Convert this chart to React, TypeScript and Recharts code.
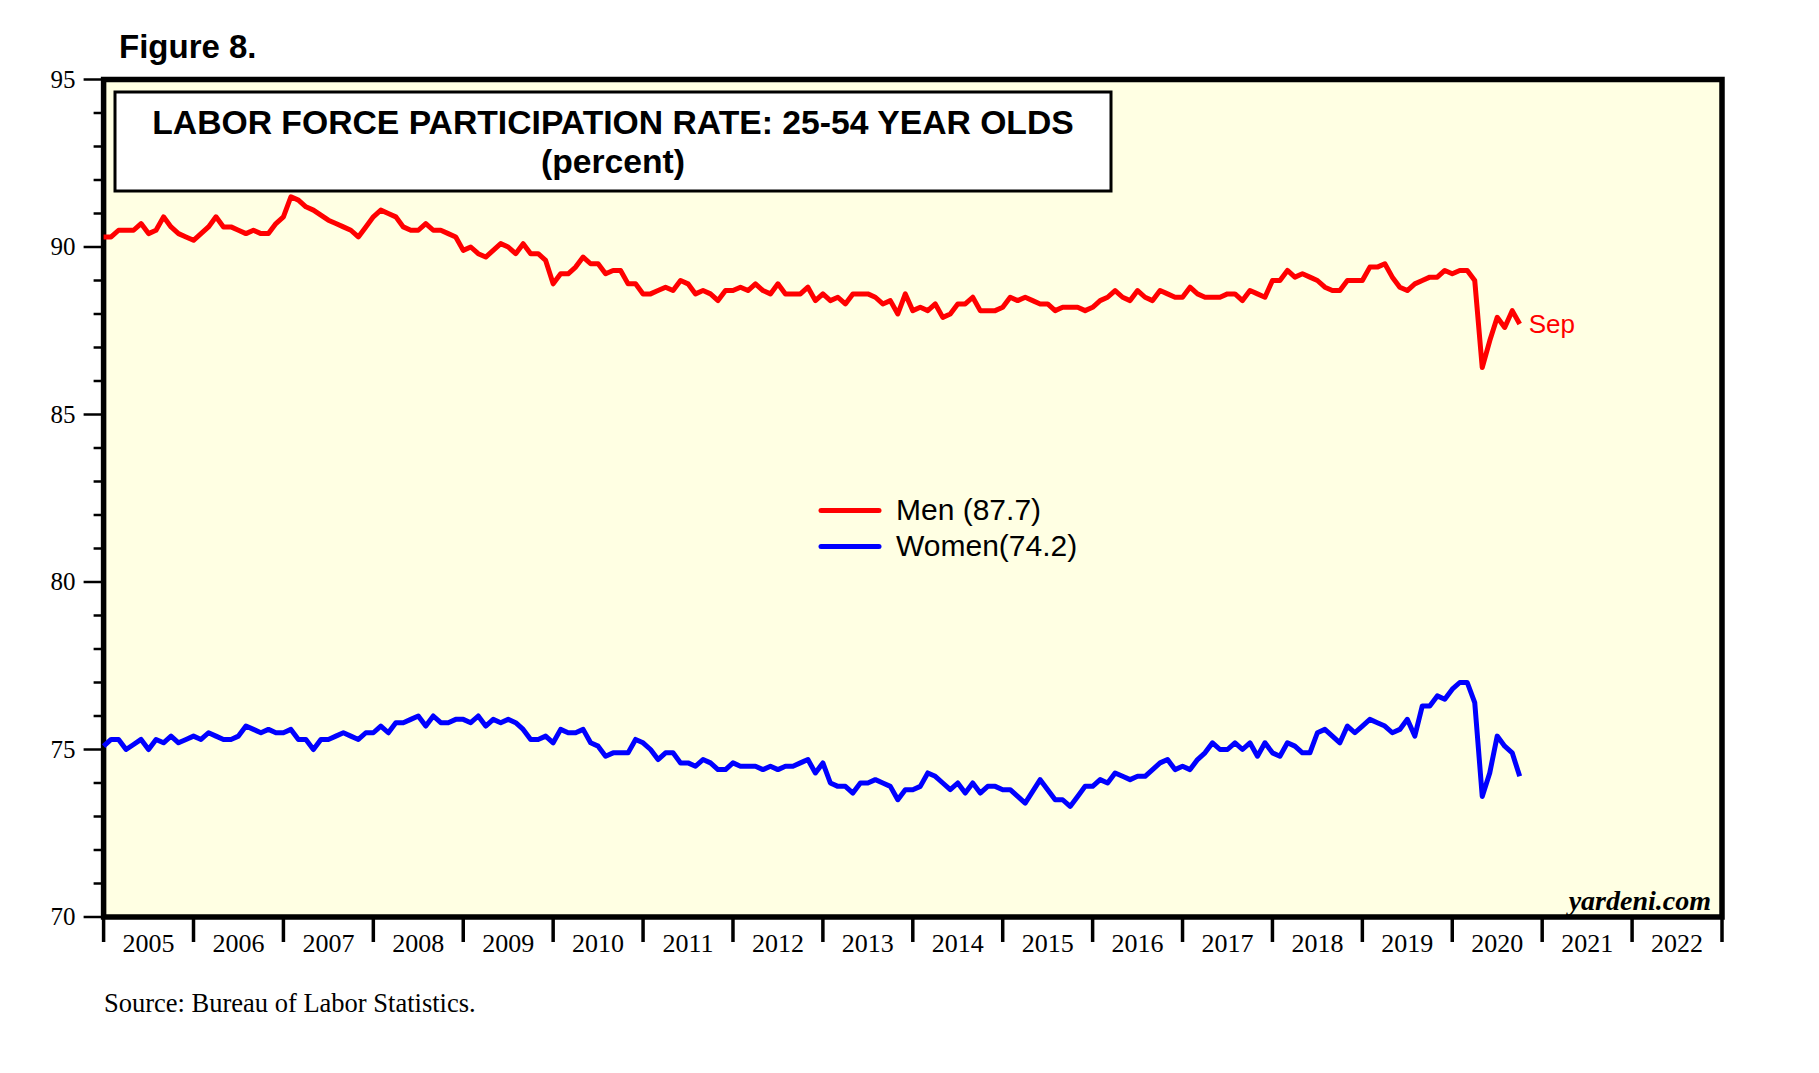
import React from 'react';
import { LineChart, Line, XAxis, YAxis, CartesianGrid, ReferenceArea, Legend } from 'recharts';

// ---------- data ----------
const START_YEAR = 2005; // first point (Dec 2004) sits on the 2005 boundary
const END_YEAR = 2023;

// Men 25-54 participation rate, monthly, Dec 2004 .. Sep 2020
const menDec2004 = [90.3];
const men2005 = [90.3, 90.5, 90.5, 90.5, 90.7, 90.4, 90.5, 90.9, 90.6, 90.4, 90.3, 90.2];
const men2006 = [90.4, 90.6, 90.9, 90.6, 90.6, 90.5, 90.4, 90.5, 90.4, 90.4, 90.7, 90.9];
const men2007 = [91.5, 91.4, 91.2, 91.1, 90.95, 90.8, 90.7, 90.6, 90.5, 90.3, 90.6, 90.9];
const men2008 = [91.1, 91.0, 90.9, 90.6, 90.5, 90.5, 90.7, 90.5, 90.5, 90.4, 90.3, 89.9];
const men2009 = [90.0, 89.8, 89.7, 89.9, 90.1, 90.0, 89.8, 90.1, 89.8, 89.8, 89.6, 88.9];
const men2010 = [89.2, 89.2, 89.4, 89.7, 89.5, 89.5, 89.2, 89.3, 89.3, 88.9, 88.9, 88.6];
const men2011 = [88.6, 88.7, 88.8, 88.7, 89.0, 88.9, 88.6, 88.7, 88.6, 88.4, 88.7, 88.7];
const men2012 = [88.8, 88.7, 88.9, 88.7, 88.6, 88.9, 88.6, 88.6, 88.6, 88.8, 88.4, 88.6];
const men2013 = [88.4, 88.5, 88.3, 88.6, 88.6, 88.6, 88.5, 88.3, 88.4, 88.0, 88.6, 88.1];
const men2014 = [88.2, 88.1, 88.3, 87.9, 88.0, 88.3, 88.3, 88.5, 88.1, 88.1, 88.1, 88.2];
const men2015 = [88.5, 88.4, 88.5, 88.4, 88.3, 88.3, 88.1, 88.2, 88.2, 88.2, 88.1, 88.2];
const men2016 = [88.4, 88.5, 88.7, 88.5, 88.4, 88.7, 88.5, 88.4, 88.7, 88.6, 88.5, 88.5];
const men2017 = [88.8, 88.6, 88.5, 88.5, 88.5, 88.6, 88.6, 88.4, 88.7, 88.6, 88.5, 89.0];
const men2018 = [89.0, 89.3, 89.1, 89.2, 89.1, 89.0, 88.8, 88.7, 88.7, 89.0, 89.0, 89.0];
const men2019 = [89.4, 89.4, 89.5, 89.1, 88.8, 88.7, 88.9, 89.0, 89.1, 89.1, 89.3, 89.2];
const men2020 = [89.3, 89.3, 89.0, 86.4, 87.2, 87.9, 87.6, 88.1, 87.7];

// Women 25-54 participation rate, monthly, Dec 2004 .. Sep 2020
const womenDec2004 = [75.1];
const women2005 = [75.3, 75.3, 75.0, 75.15, 75.3, 75.0, 75.3, 75.2, 75.4, 75.2, 75.3, 75.4];
const women2006 = [75.3, 75.5, 75.4, 75.3, 75.3, 75.4, 75.7, 75.6, 75.5, 75.6, 75.5, 75.5];
const women2007 = [75.6, 75.3, 75.3, 75.0, 75.3, 75.3, 75.4, 75.5, 75.4, 75.3, 75.5, 75.5];
const women2008 = [75.7, 75.5, 75.8, 75.8, 75.9, 76.0, 75.7, 76.0, 75.8, 75.8, 75.9, 75.9];
const women2009 = [75.8, 76.0, 75.7, 75.9, 75.8, 75.9, 75.8, 75.6, 75.3, 75.3, 75.4, 75.2];
const women2010 = [75.6, 75.5, 75.5, 75.6, 75.2, 75.1, 74.8, 74.9, 74.9, 74.9, 75.3, 75.2];
const women2011 = [75.0, 74.7, 74.9, 74.9, 74.6, 74.6, 74.5, 74.7, 74.6, 74.4, 74.4, 74.6];
const women2012 = [74.5, 74.5, 74.5, 74.4, 74.5, 74.4, 74.5, 74.5, 74.6, 74.7, 74.3, 74.6];
const women2013 = [74.0, 73.9, 73.9, 73.7, 74.0, 74.0, 74.1, 74.0, 73.9, 73.5, 73.8, 73.8];
const women2014 = [73.9, 74.3, 74.2, 74.0, 73.8, 74.0, 73.7, 74.0, 73.7, 73.9, 73.9, 73.8];
const women2015 = [73.8, 73.6, 73.4, 73.75, 74.1, 73.8, 73.5, 73.5, 73.3, 73.6, 73.9, 73.9];
const women2016 = [74.1, 74.0, 74.3, 74.2, 74.1, 74.2, 74.2, 74.4, 74.6, 74.7, 74.4, 74.5];
const women2017 = [74.4, 74.7, 74.9, 75.2, 75.0, 75.0, 75.2, 75.0, 75.2, 74.8, 75.2, 74.9];
const women2018 = [74.8, 75.2, 75.1, 74.9, 74.9, 75.5, 75.6, 75.4, 75.2, 75.7, 75.5, 75.7];
const women2019 = [75.9, 75.8, 75.7, 75.5, 75.6, 75.9, 75.4, 76.3, 76.3, 76.6, 76.5, 76.8];
const women2020 = [77.0, 77.0, 76.4, 73.6, 74.3, 75.4, 75.1, 74.9, 74.2];

const menRate = [
  ...menDec2004, ...men2005, ...men2006, ...men2007, ...men2008, ...men2009, ...men2010,
  ...men2011, ...men2012, ...men2013, ...men2014, ...men2015, ...men2016, ...men2017,
  ...men2018, ...men2019, ...men2020,
];
const womenRate = [
  ...womenDec2004, ...women2005, ...women2006, ...women2007, ...women2008, ...women2009,
  ...women2010, ...women2011, ...women2012, ...women2013, ...women2014, ...women2015,
  ...women2016, ...women2017, ...women2018, ...women2019, ...women2020,
];

const lastMonthLabel = 'Sep';
const yTicks = [70, 71, 72, 73, 74, 75, 76, 77, 78, 79, 80, 81, 82, 83, 84, 85, 86, 87, 88, 89, 90, 91, 92, 93, 94, 95];
const yearLabels = [2005, 2006, 2007, 2008, 2009, 2010, 2011, 2012, 2013, 2014, 2015, 2016, 2017, 2018, 2019, 2020, 2021, 2022];
const xTicks = [...yearLabels.flatMap((yr) => [yr, yr + 0.5]), END_YEAR];

const data = menRate.map((m, k) => ({ t: START_YEAR + k / 12, men: m, women: womenRate[k] }));

const menName = `Men (${menRate[menRate.length - 1].toFixed(1)})`;
const womenName = `Women(${womenRate[womenRate.length - 1].toFixed(1)})`;

// ---------- styles ----------
const SANS = "'Liberation Sans', Arial, Helvetica, sans-serif";
const SERIF = "'Liberation Serif', 'Times New Roman', Times, serif";
const RED = '#FF0000';
const BLUE = '#0000FF';
const PLOT_BG = '#FFFFE3';

const LeftTick = (props: any) => {
  const { x, y, payload } = props;
  const major = payload.value % 5 === 0;
  return (
    <g>
      <line x1={x - (major ? 20 : 10)} x2={x} y1={y} y2={y} stroke="#000" strokeWidth={2.5} />
      {major && (
        <text x={x - 28} y={y + 8} textAnchor="end" fontFamily={SERIF} fontSize={25} fill="#000">
          {payload.value}
        </text>
      )}
    </g>
  );
};

const RightTick = (props: any) => {
  const { x, y, payload } = props;
  const major = payload.value % 5 === 0;
  return (
    <g>
      <line x1={x} x2={x + (major ? 20 : 10)} y1={y} y2={y} stroke="#000" strokeWidth={2.5} />
      {major && (
        <text x={x + 28} y={y + 8} textAnchor="start" fontFamily={SERIF} fontSize={25} fill="#000">
          {payload.value}
        </text>
      )}
    </g>
  );
};

const XTick = (props: any) => {
  const { x, y, payload } = props;
  const v = payload.value;
  if (Number.isInteger(v)) {
    return <line x1={x} x2={x} y1={y} y2={y + 25} stroke="#000" strokeWidth={3.5} />;
  }
  return (
    <text x={x} y={y + 35} textAnchor="middle" fontFamily={SERIF} fontSize={26} fill="#000">
      {Math.floor(v)}
    </text>
  );
};

const renderLegend = (props: any) => {
  const { payload } = props;
  return (
    <svg width={420} height={90}>
      {(payload || []).map((entry: any, idx: number) => {
        const cy = 30.5 + idx * 36;
        return (
          <g key={idx}>
            <line x1={6} x2={64} y1={cy} y2={cy} stroke={entry.color} strokeWidth={5} strokeLinecap="round" />
            <text x={81} y={cy + 9.5} fontFamily={SANS} fontSize={30} fill="#000">
              {entry.value}
            </text>
          </g>
        );
      })}
    </svg>
  );
};

const renderSepLabel = (props: any) => {
  const { x, y, index } = props;
  if (index !== menRate.length - 1) return null;
  return (
    <text x={x + 9} y={y + 9} fill={RED} fontSize={26} fontFamily={SANS}>
      {lastMonthLabel}
    </text>
  );
};

export default function App() {
  return (
    <div style={{ position: 'absolute', left: 0, top: 0, width: 1819, height: 1073, background: '#fff' }}>
      <LineChart
        width={1819}
        height={1073}
        data={data}
        margin={{ top: 79.5, right: 37, bottom: 96, left: 43.6 }}
      >
        <CartesianGrid fill={PLOT_BG} fillOpacity={1} horizontal={false} vertical={false} />
        <XAxis
          dataKey="t"
          type="number"
          scale="linear"
          domain={[START_YEAR, END_YEAR]}
          ticks={xTicks}
          interval={0}
          height={60}
          tickSize={0}
          tickMargin={0}
          axisLine={false}
          tickLine={false}
          tick={<XTick />}
        />
        <YAxis
          yAxisId="left"
          orientation="left"
          type="number"
          domain={[70, 95]}
          ticks={yTicks}
          interval={0}
          width={60}
          tickSize={0}
          tickMargin={0}
          axisLine={false}
          tickLine={false}
          tick={<LeftTick />}
        />
        <YAxis
          yAxisId="right"
          orientation="right"
          type="number"
          domain={[70, 95]}
          ticks={yTicks}
          interval={0}
          width={60}
          tickSize={0}
          tickMargin={0}
          axisLine={false}
          tickLine={false}
          tick={<RightTick />}
        />
        <Line
          yAxisId="left"
          type="linear"
          dataKey="men"
          name={menName}
          stroke={RED}
          strokeWidth={5}
          strokeLinejoin="round"
          dot={false}
          isAnimationActive={false}
          label={renderSepLabel}
        />
        <Line
          yAxisId="left"
          type="linear"
          dataKey="women"
          name={womenName}
          stroke={BLUE}
          strokeWidth={5}
          strokeLinejoin="round"
          dot={false}
          isAnimationActive={false}
        />
        <ReferenceArea
          yAxisId="left"
          x1={START_YEAR}
          x2={END_YEAR}
          y1={70}
          y2={95}
          fill="none"
          stroke="#000"
          strokeWidth={5.5}
          ifOverflow="visible"
        />
        <Legend
          layout="vertical"
          align="center"
          verticalAlign="middle"
          wrapperStyle={{ left: 815, top: 480, width: 420, height: 90 }}
          content={renderLegend}
        />
      </LineChart>
      <svg
        width={1819}
        height={1073}
        style={{ position: 'absolute', left: 0, top: 0, pointerEvents: 'none' }}
      >
        <text x={119} y={57.5} fontFamily={SANS} fontWeight="bold" fontSize={33} fill="#000">
          Figure 8.
        </text>
        <rect x={115} y={92} width={996} height={99} fill="#fff" stroke="#000" strokeWidth={3} />
        <text x={613} y={133.5} textAnchor="middle" fontFamily={SANS} fontWeight="bold" fontSize={33.7} fill="#000">
          LABOR FORCE PARTICIPATION RATE: 25-54 YEAR OLDS
        </text>
        <text x={613} y={173} textAnchor="middle" fontFamily={SANS} fontWeight="bold" fontSize={33.7} fill="#000">
          (percent)
        </text>
        <text x={1711} y={910} textAnchor="end" fontFamily={SERIF} fontWeight="bold" fontStyle="italic" fontSize={28} fill="#000">
          yardeni.com
        </text>
        <text x={104} y={1012} fontFamily={SERIF} fontSize={26.5} fill="#000">
          Source: Bureau of Labor Statistics.
        </text>
      </svg>
    </div>
  );
}
